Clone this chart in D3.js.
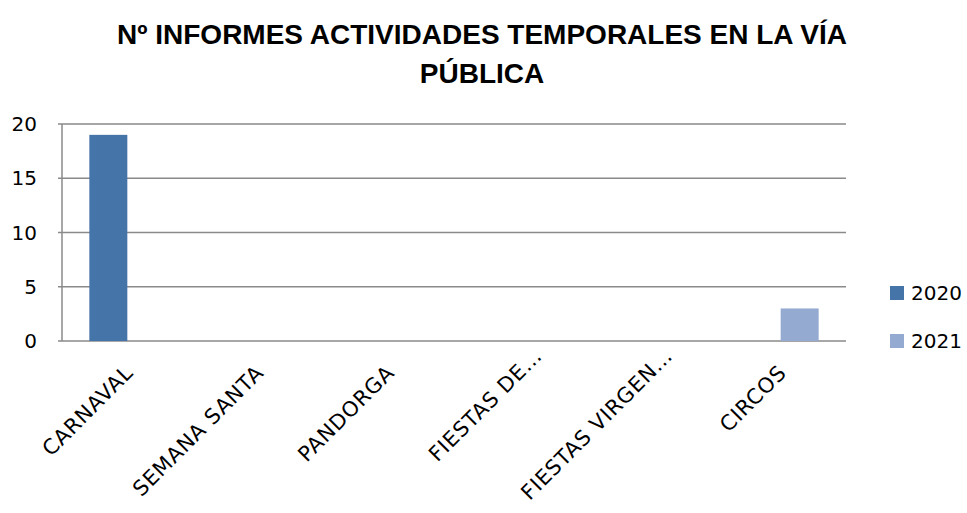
<!DOCTYPE html>
<html>
<head>
<meta charset="utf-8">
<script src="https://cdn.jsdelivr.net/npm/d3@7"></script>
<style>
  body { margin: 0; background: #fff; }
  svg { display: block; }
</style>
</head>
<body>
<div id="chart"></div>
<script>
const categories = ["CARNAVAL", "SEMANA SANTA", "PANDORGA", "FIESTAS DE…", "FIESTAS VIRGEN…", "CIRCOS"];
const seriesNames = ["2020", "2021"];
const values2020 = [19, 0, 0, 0, 0, 0];
const values2021 = [0, 0, 0, 0, 0, 3];
const yTicks = [0, 5, 10, 15, 20];
const titleLines = ["Nº INFORMES ACTIVIDADES TEMPORALES EN LA VÍA", "PÚBLICA"];

const width = 967;
const height = 513;
const margin = { top: 124, right: 121, bottom: 172, left: 62 };

const colors = d3.scaleOrdinal().domain(seriesNames).range(["#4574a8", "#95aad1"]);

const data = categories.map((c, i) => ({ cat: c, "2020": values2020[i], "2021": values2021[i] }));

const svg = d3.select("#chart").append("svg")
  .attr("width", width)
  .attr("height", height);

const x0 = d3.scaleBand()
  .domain(categories)
  .range([margin.left, width - margin.right]);

const xs = d3.scaleBand()
  .domain(seriesNames)
  .range([0, 76]);

const y = d3.scaleLinear()
  .domain([0, 20])
  .range([height - margin.bottom, margin.top]);

// gridlines
svg.append("g")
  .selectAll("line")
  .data(yTicks)
  .join("line")
  .attr("x1", margin.left - 4)
  .attr("x2", width - margin.right)
  .attr("y1", d => y(d))
  .attr("y2", d => y(d))
  .attr("stroke", "#8a8a8a")
  .attr("stroke-width", 1.5);

// y axis line
svg.append("line")
  .attr("x1", margin.left)
  .attr("x2", margin.left)
  .attr("y1", y(20))
  .attr("y2", y(0))
  .attr("stroke", "#8a8a8a")
  .attr("stroke-width", 1.5);

// y labels
svg.append("g")
  .selectAll("text")
  .data(yTicks)
  .join("text")
  .attr("x", 37)
  .attr("y", d => y(d))
  .attr("dy", "0.36em")
  .attr("text-anchor", "end")
  .style("font-family", "'DejaVu Sans', sans-serif")
  .style("font-size", "20px")
  .attr("fill", "#000")
  .text(d => d);

// bars
const groups = svg.append("g")
  .selectAll("g")
  .data(data)
  .join("g")
  .attr("transform", d => `translate(${x0(d.cat) + (x0.bandwidth() - 76) / 2},0)`);

groups.selectAll("rect")
  .data(d => seriesNames.map(s => ({ key: s, value: d[s] })))
  .join("rect")
  .attr("x", d => xs(d.key))
  .attr("width", xs.bandwidth())
  .attr("y", d => y(d.value))
  .attr("height", d => y(0) - y(d.value))
  .attr("fill", d => colors(d.key));

// x labels (truncated ones sit a bit further along the diagonal)
svg.append("g")
  .selectAll("text")
  .data(categories)
  .join("text")
  .attr("transform", d => `translate(${x0(d) + x0.bandwidth() / 2 + 7},${y(0) + 33}) rotate(-45)`)
  .attr("dx", d => d.endsWith("…") ? 24 : 0)
  .attr("text-anchor", "end")
  .style("font-family", "'DejaVu Sans', sans-serif")
  .style("font-size", "21px")
  .style("letter-spacing", "0.8px")
  .attr("fill", "#000")
  .text(d => d);

// title
svg.append("g")
  .selectAll("text")
  .data(titleLines)
  .join("text")
  .attr("x", 482)
  .attr("y", (d, i) => 44 + i * 39)
  .attr("text-anchor", "middle")
  .style("font-family", "'Liberation Sans', Arial, sans-serif")
  .style("font-weight", "bold")
  .style("font-size", "28px")
  .attr("fill", "#000")
  .text(d => d);

// legend
const legend = svg.append("g")
  .attr("transform", `translate(890, 286)`);

seriesNames.forEach((s, i) => {
  const g = legend.append("g")
    .attr("transform", `translate(0, ${i * 48})`);
  g.append("rect")
    .attr("width", 14)
    .attr("height", 14)
    .attr("fill", colors(s));
  g.append("text")
    .attr("x", 21)
    .attr("y", 7)
    .attr("dy", "0.36em")
    .style("font-family", "'DejaVu Sans', sans-serif")
    .style("font-size", "20px")
    .attr("fill", "#000")
    .text(s);
});
</script>
</body>
</html>
